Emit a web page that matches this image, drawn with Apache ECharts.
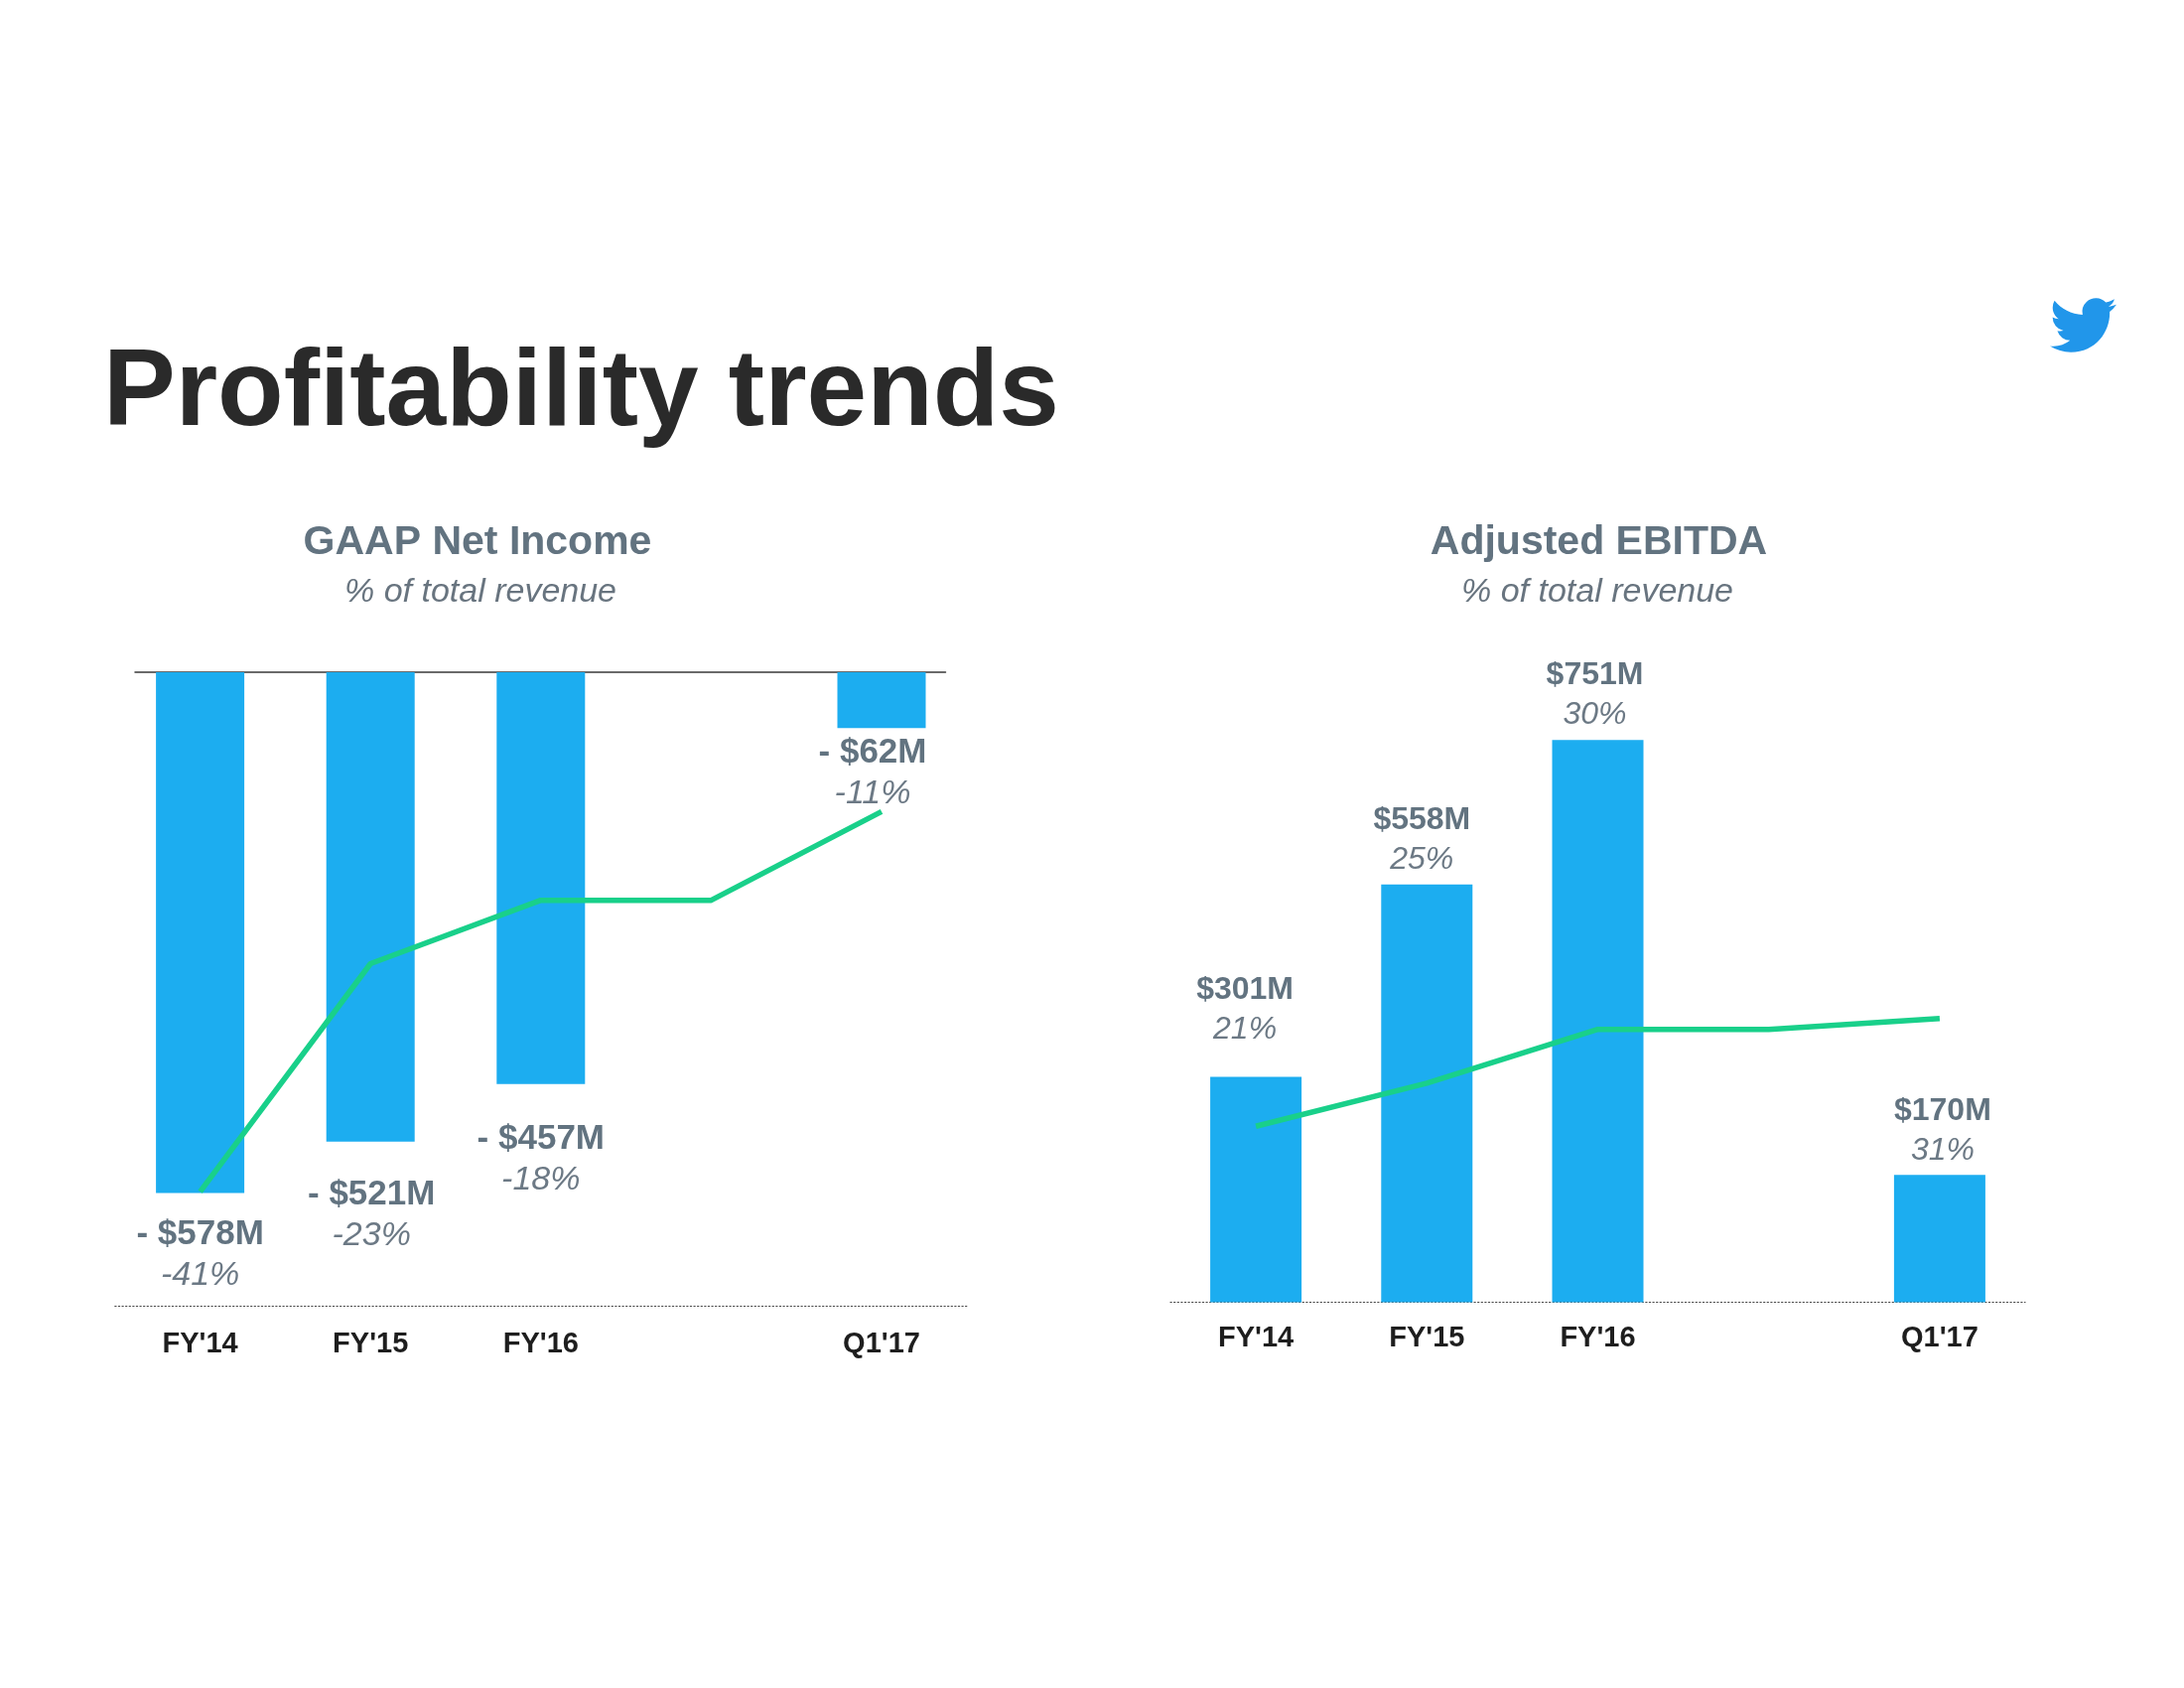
<!DOCTYPE html>
<html>
<head>
<meta charset="utf-8">
<script src="https://cdn.jsdelivr.net/npm/echarts@6/dist/echarts.min.js"></script>
<style>
  html, body { margin: 0; padding: 0; background: #ffffff; }
  #chart { width: 2200px; height: 1700px; }
</style>
</head>
<body>
<div id="chart"></div>
<script>
// ---- Data ----
const categories = ["FY'14", "FY'15", "FY'16", "", "Q1'17"];
const netIncome = [-578, -521, -457, null, -62];          // $M
const netIncomePct = [-41, -23, -18, -18, -11];           // % of total revenue
const ebitda = [301, 558, 751, null, 170];                // $M
const ebitdaPct = [21, 25, 30, 30, 31];                   // % of total revenue

// ---- Styling / layout config ----
const FONT = '"Liberation Sans", Arial, Helvetica, sans-serif';
const BLUE = '#1cadf0';
const GREEN = '#19d08a';
const LABEL_GRAY = '#627380';
const PCT_GRAY = '#6c7985';
// per-label nudges (gap from bar end, horizontal shift), style only
const niLabelNudge = [[21, 0], [33, 1], [35, 0], null, [5, -9]];
const ebLabelNudge = [[27, -11], [5, -5], [5, -3], null, [4, 3]];

function barItems(values, nudges) {
  return values.map((v, i) => {
    if (v === null) return '-';
    const n = nudges[i];
    return { value: v, label: { distance: n[0], offset: [n[1], 0] } };
  });
}

const BIRD = 'M23.953 4.57 a10 10 0 0 1 -2.825 0.775 a4.958 4.958 0 0 0 2.163 -2.723 ' +
  'c-0.951 0.555 -2.005 0.959 -3.127 1.184 a4.92 4.92 0 0 0 -8.384 4.482 ' +
  'C7.69 8.095 4.067 6.13 1.64 3.162 a4.822 4.822 0 0 0 -0.666 2.475 ' +
  'c0 1.71 0.87 3.213 2.188 4.096 a4.904 4.904 0 0 1 -2.228 -0.616 v0.06 ' +
  'a4.923 4.923 0 0 0 3.946 4.827 a4.996 4.996 0 0 1 -2.212 0.085 ' +
  'a4.936 4.936 0 0 0 4.604 3.417 a9.867 9.867 0 0 1 -6.102 2.105 ' +
  'c-0.39 0 -0.779 -0.023 -1.17 -0.067 a13.995 13.995 0 0 0 7.557 2.209 ' +
  'c9.053 0 13.998 -7.496 13.998 -13.985 c0 -0.21 0 -0.42 -0.015 -0.63 ' +
  'A9.935 9.935 0 0 0 24 4.59 Z';

let birdOk = false;
try {
  echarts.graphic.registerShape('twitterBird', echarts.graphic.extendPath(BIRD, {}));
  birdOk = true;
} catch (e) { birdOk = false; }

const chart = echarts.init(document.getElementById('chart'), null, { renderer: 'canvas' });

const catAxisBase = {
  type: 'category',
  data: categories,
  boundaryGap: true,
  axisTick: { show: false },
  splitLine: { show: false }
};

function txt(x, y, text, font, fill, align) {
  return {
    type: 'text', x: x, y: y,
    style: {
      text: text, fill: fill, font: font,
      textAlign: align, textVerticalAlign: 'middle', align: align, verticalAlign: 'middle'
    }
  };
}

const graphics = [
  txt(104, 398, 'Profitability trends', 'bold 109px ' + FONT, '#2a2a2a', 'left'),
  txt(481, 547, 'GAAP Net Income', 'bold 41px ' + FONT, '#627380', 'center'),
  txt(484, 597, '% of total revenue', 'italic 34px ' + FONT, '#68747f', 'center'),
  txt(1610.5, 547, 'Adjusted EBITDA', 'bold 41px ' + FONT, '#627380', 'center'),
  txt(1609, 597, '% of total revenue', 'italic 34px ' + FONT, '#68747f', 'center')
];
if (birdOk) {
  graphics.push({
    type: 'twitterBird', x: 2065, y: 294, scaleX: 2.79, scaleY: 2.79,
    style: { fill: '#2196ea' }
  });
}

const option = {
  backgroundColor: '#ffffff',
  animation: false,
  grid: [
    { left: 115.8, top: 677, width: 858, height: 638 },
    { left: 1179, top: 557.5, width: 861, height: 754 },
    { left: 136, top: 677, width: 816.5, height: 638 }
  ],
  xAxis: [
    Object.assign({}, catAxisBase, {
      gridIndex: 0, position: 'bottom',
      axisLine: { show: true, onZero: false, lineStyle: { color: '#444', width: 1.2, type: [1.2, 2.4] } },
      axisLabel: { margin: 24, fontSize: 29, fontWeight: 'bold', color: '#1e1e1e', fontFamily: FONT }
    }),
    Object.assign({}, catAxisBase, {
      gridIndex: 1, position: 'bottom',
      axisLine: { show: true, onZero: false, lineStyle: { color: '#444', width: 1.2, type: [1.2, 2.4] } },
      axisLabel: { margin: 21.5, fontSize: 29, fontWeight: 'bold', color: '#1e1e1e', fontFamily: FONT }
    }),
    Object.assign({}, catAxisBase, {
      gridIndex: 2, position: 'top',
      axisLine: { show: true, onZero: false, lineStyle: { color: '#3a3a3a', width: 1.5 } },
      axisLabel: { show: false }
    })
  ],
  yAxis: [
    { gridIndex: 0, type: 'value', min: -703, max: 0, show: false },
    { gridIndex: 0, type: 'value', min: -50, max: 0, show: false },
    { gridIndex: 1, type: 'value', min: 0, max: 1000, show: false },
    { gridIndex: 1, type: 'value', min: 4.65, max: 74.2, show: false },
    { gridIndex: 2, type: 'value', min: 0, max: 1, show: false }
  ],
  series: [
    {
      type: 'bar', xAxisIndex: 0, yAxisIndex: 0,
      data: barItems(netIncome, niLabelNudge),
      barWidth: 89,
      itemStyle: { color: BLUE },
      label: {
        show: true, position: 'bottom',
        formatter: p => '{a|- $' + Math.abs(p.value) + 'M}\n{b|' + netIncomePct[p.dataIndex] + '%}',
        rich: {
          a: { fontFamily: FONT, fontWeight: 'bold', fontSize: 35, color: LABEL_GRAY, lineHeight: 41, align: 'center' },
          b: { fontFamily: FONT, fontStyle: 'italic', fontSize: 34, color: PCT_GRAY, lineHeight: 41, align: 'center' }
        }
      },
      z: 2
    },
    {
      type: 'line', xAxisIndex: 0, yAxisIndex: 1,
      data: netIncomePct,
      symbol: 'none', smooth: false,
      lineStyle: { color: GREEN, width: 5.5 },
      itemStyle: { color: GREEN },
      z: 3
    },
    {
      type: 'bar', xAxisIndex: 1, yAxisIndex: 2,
      data: barItems(ebitda, ebLabelNudge),
      barWidth: 92,
      itemStyle: { color: BLUE },
      label: {
        show: true, position: 'top',
        formatter: p => '{a|$' + p.value + 'M}\n{b|' + ebitdaPct[p.dataIndex] + '%}',
        rich: {
          a: { fontFamily: FONT, fontWeight: 'bold', fontSize: 32, color: LABEL_GRAY, lineHeight: 40, align: 'center' },
          b: { fontFamily: FONT, fontStyle: 'italic', fontSize: 32, color: PCT_GRAY, lineHeight: 40, align: 'center' }
        }
      },
      z: 2
    },
    {
      type: 'line', xAxisIndex: 1, yAxisIndex: 3,
      data: ebitdaPct,
      symbol: 'none', smooth: false,
      lineStyle: { color: GREEN, width: 5.5 },
      itemStyle: { color: GREEN },
      z: 3
    }
  ],
  graphic: graphics
};

chart.setOption(option);
</script>
</body>
</html>
